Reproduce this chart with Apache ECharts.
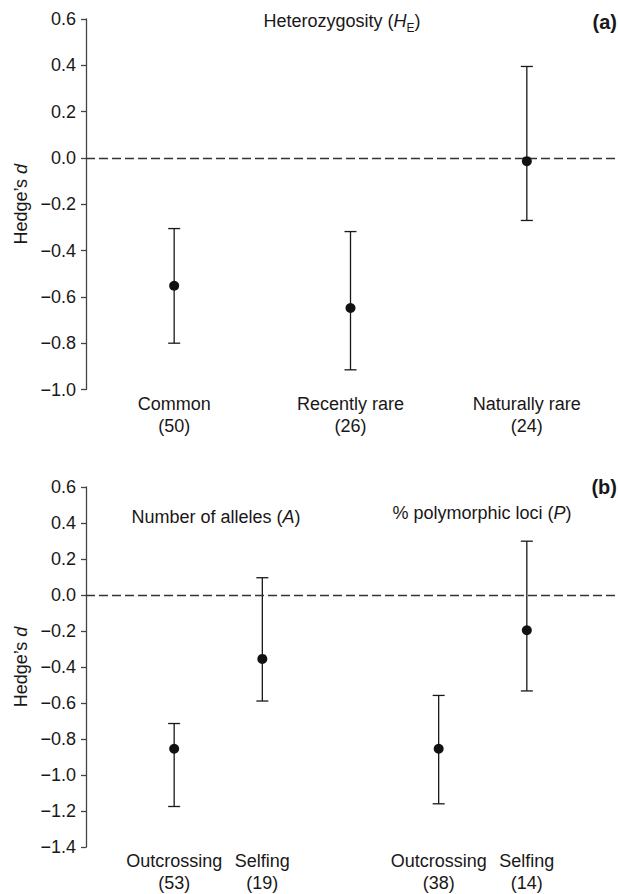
<!DOCTYPE html>
<html>
<head>
<meta charset="utf-8">
<script src="https://cdn.jsdelivr.net/npm/echarts@6/dist/echarts.min.js"></script>
<style>
html,body{margin:0;padding:0;background:#fff;}
#chart{width:618px;height:894px;}
</style>
</head>
<body>
<div id="chart"></div>
<script>
// ---- Panel (a): Heterozygosity (H_E)
const catsA = ['Common', 'Recently rare', 'Naturally rare'];
const nA = [50, 26, 24];
const meanA = [-0.552, -0.648, -0.014];
const loA = [-0.800, -0.915, -0.270];
const hiA = [-0.305, -0.318, 0.395];
const yTicksA = {min: -1.0, max: 0.6, interval: 0.2};

// ---- Panel (b): Number of alleles (A) and % polymorphic loci (P)
const groupsB = ['Number of alleles', '% polymorphic loci'];
const groupSymB = ['A', 'P'];
const catsB = ['Outcrossing', 'Selfing', 'Outcrossing', 'Selfing'];
const groupOfB = [0, 0, 1, 1];
const nB = [53, 19, 38, 14];
const meanB = [-0.854, -0.355, -0.854, -0.196];
const loB = [-1.175, -0.589, -1.160, -0.533];
const hiB = [-0.714, 0.096, -0.558, 0.299];
const yTicksB = {min: -1.4, max: 0.6, interval: 0.2};

const FONT = 'Liberation Sans, Arial, Helvetica, sans-serif';
const INK = '#1a1718';
const AXIS = '#444';

// slot positions on the hidden value x-axis
const slotA = catsA.map((c, i) => 1 + 2 * i);
const slotB = catsB.map((c, i) => {
  const g = groupOfB[i];
  const j = groupOfB.slice(0, i).filter(v => v === g).length;
  return 3 * g + j + 1;
});
const labelMapA = {};
slotA.forEach((s, i) => { labelMapA[s] = catsA[i] + '\n(' + nA[i] + ')'; });
const labelMapB = {};
slotB.forEach((s, i) => { labelMapB[s] = catsB[i] + '\n(' + nB[i] + ')'; });

function fmtY(v) {
  if (Math.abs(v) < 1e-9) return '0.0';
  return (v < 0 ? '\u2212' : '') + Math.abs(v).toFixed(1);
}

function xAxisFor(idx, map) {
  return {
    type: 'value', gridIndex: idx, min: 0, max: 6, interval: 1,
    axisLine: {show: false}, axisTick: {show: false}, splitLine: {show: false},
    axisLabel: {
      show: true, margin: 3, fontSize: 18, lineHeight: 22, color: INK, fontFamily: FONT,
      showMinLabel: true, showMaxLabel: true,
      formatter: v => map[Math.round(v)] || ''
    }
  };
}
function yAxisFor(idx, t) {
  return {
    type: 'value', gridIndex: idx, min: t.min, max: t.max, interval: t.interval,
    name: 'Hedge\u2019s {i|d}', nameLocation: 'middle', nameGap: 55,
    nameTextStyle: {fontSize: 18, color: INK, fontFamily: FONT,
      rich: {i: {fontStyle: 'italic', fontSize: 18, color: INK, fontFamily: FONT}}},
    axisLine: {show: true, lineStyle: {color: AXIS, width: 1.3}},
    axisTick: {show: true, length: 5, lineStyle: {color: AXIS, width: 1.3}},
    splitLine: {show: false},
    axisLabel: {margin: 10, fontSize: 18, color: INK, fontFamily: FONT, formatter: fmtY}
  };
}

function errSeries(idx, slots, lo, hi) {
  return {
    type: 'custom', xAxisIndex: idx, yAxisIndex: idx,
    data: slots.map((s, i) => [s, lo[i], hi[i]]),
    encode: {x: 0, y: [1, 2]},
    silent: true, animation: false,
    renderItem: function (params, api) {
      const x = api.value(0);
      const pLo = api.coord([x, api.value(1)]);
      const pHi = api.coord([x, api.value(2)]);
      const cw = 6;
      const st = {stroke: INK, lineWidth: 1.3};
      return {type: 'group', children: [
        {type: 'line', shape: {x1: pLo[0], y1: pLo[1], x2: pHi[0], y2: pHi[1]}, style: st},
        {type: 'line', shape: {x1: pLo[0] - cw, y1: pLo[1], x2: pLo[0] + cw, y2: pLo[1]}, style: st},
        {type: 'line', shape: {x1: pHi[0] - cw, y1: pHi[1], x2: pHi[0] + cw, y2: pHi[1]}, style: st}
      ]};
    }
  };
}
function dotSeries(idx, slots, mean) {
  return {
    type: 'scatter', xAxisIndex: idx, yAxisIndex: idx,
    data: slots.map((s, i) => [s, mean[i]]),
    symbol: 'circle', symbolSize: 10,
    itemStyle: {color: '#111', opacity: 1}, silent: true, animation: false, z: 5,
    markLine: {
      silent: true, symbol: ['none', 'none'], animation: false,
      label: {show: false},
      lineStyle: {type: [9, 4], color: '#333', width: 1.3, opacity: 1},
      data: [{yAxis: 0}]
    }
  };
}

const titleRich = {
  i: {fontStyle: 'italic', fontSize: 18, fontFamily: FONT, fill: INK, color: INK},
  sub: {fontSize: 12, lineHeight: 25, fontFamily: FONT, fill: INK, color: INK, verticalAlign: 'bottom'}
};
function txt(text, x, y, align, extra) {
  return {
    type: 'text', x: x, y: y, silent: true,
    style: Object.assign({
      text: text, fill: INK, fontSize: 18, fontFamily: FONT,
      align: align, verticalAlign: 'middle', textAlign: align, textVerticalAlign: 'middle',
      rich: titleRich
    }, extra || {})
  };
}

const chart = echarts.init(document.getElementById('chart'), null, {renderer: 'svg'});
chart.setOption({
  backgroundColor: '#fff',
  animation: false,
  grid: [
    {left: 86, right: 0, top: 19, height: 370.5, containLabel: false},
    {left: 86, right: 0, top: 487, height: 370, containLabel: false}
  ],
  xAxis: [xAxisFor(0, labelMapA), xAxisFor(1, labelMapB)],
  yAxis: [yAxisFor(0, yTicksA), yAxisFor(1, yTicksB)],
  series: [
    errSeries(0, slotA, loA, hiA), dotSeries(0, slotA, meanA),
    errSeries(1, slotB, loB, hiB), dotSeries(1, slotB, meanB)
  ],
  graphic: [
    txt('Heterozygosity ({i|H}{sub|E})', 342, 21, 'center'),
    txt('(a)', 617, 22, 'right', {fontWeight: 'bold', fontSize: 20}),
    txt(groupsB[0] + ' ({i|' + groupSymB[0] + '})', 216, 517, 'center'),
    txt(groupsB[1] + ' ({i|' + groupSymB[1] + '})', 482, 513, 'center'),
    txt('(b)', 617, 487, 'right', {fontWeight: 'bold', fontSize: 20})
  ]
});
</script>
</body>
</html>
